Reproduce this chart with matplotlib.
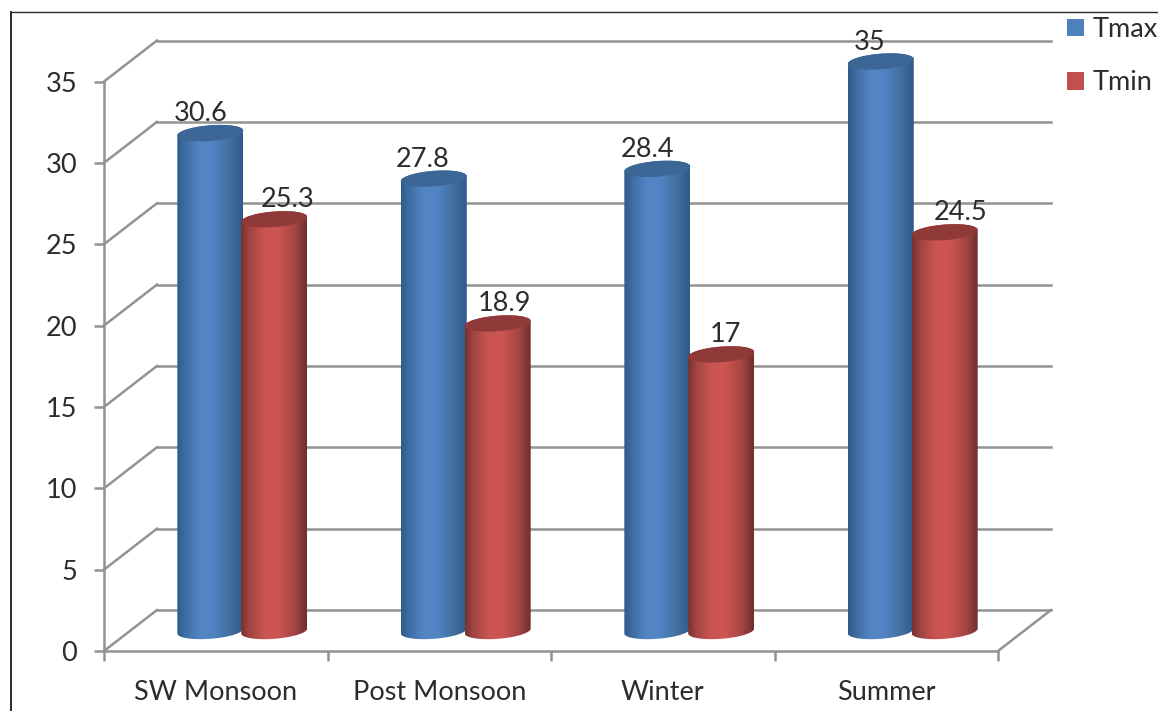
import numpy as np
import matplotlib
matplotlib.use("Agg")
import matplotlib.pyplot as plt
from matplotlib.lines import Line2D
from matplotlib.patches import Patch, Polygon
from matplotlib.path import Path
from matplotlib.transforms import Affine2D

plt.rcParams['font.family'] = ['Lato', 'DejaVu Sans']

# ===================================== data ==============================================================
categories = ["SW Monsoon", "Post Monsoon", "Winter", "Summer"]
tmax = [30.6, 27.8, 28.4, 35]
tmin = [25.3, 18.9, 17, 24.5]
y_ticks = [0, 5, 10, 15, 20, 25, 30, 35]

# label shift from the bar centre, pixels
tmax_label_dx = [-10, -11, -10, -11]
tmin_label_dx = [13, 7, 4, 16]

W, H = 1158, 711
GRID = "#939393"
TEXT = "#2c2c2c"
FS = 19.5
LW = 1.8

fig = plt.figure(figsize=(W / 100, H / 100), dpi=100, facecolor="white")
ax = fig.add_axes([104 / W, (H - 651) / H, (998 - 104) / W, (651 - 81.5) / H])
ax.set_xlim(0, 4)
ax.set_ylim(0, 35)
ax.patch.set_visible(False)

# depth of the fake 3d box, in pixels
back = ax.transData + Affine2D().translate(53, 41)
mid = ax.transData + Affine2D().translate(26.5, 20)


def depth_line(x, v):
    # slanted line from the front of the box to the back wall
    start = ax.transData.transform((x, v))
    line = Line2D([0, 53], [0, 41], color=GRID, lw=LW, zorder=1, transform=Affine2D().translate(*start))
    ax.add_artist(line)
    line.set_clip_on(False)


# walls and floor
for v in y_ticks:
    ax.plot([0, 4], [v, v], color=GRID, lw=LW, transform=back, clip_on=False, zorder=1)
    depth_line(0, v)
depth_line(4, 0)

# ===================================== cylinders =========================================================
stops = [0, 0.12, 0.35, 0.55, 0.8, 1]
blue_side = ["#2f5b8c", "#3f6da3", "#5486c6", "#5184c4", "#436f9f", "#30598a"]
red_side = ["#77322f", "#a04442", "#ca5452", "#cd5653", "#a94745", "#6f2f2d"]
blue_cap = "#3c6695"
red_cap = "#8f3a38"

HW = 0.1475     # half width
ELL = 0.48      # ellipse half height
SLOPE = 0.15    # ellipse tilt


def side_image(colors):
    pos = np.linspace(0, 1, 128)
    rgb = np.array([matplotlib.colors.to_rgb(c) for c in colors])
    return np.dstack([np.interp(pos, stops, rgb[:, i]) for i in range(3)])


def cylinder(cx, v, colors, cap, z):
    t = np.linspace(0, 2 * np.pi, 121)
    ex = cx + HW * np.cos(t)
    ey = SLOPE * np.cos(t) + ELL * np.sin(t)
    low = (t >= np.pi)
    up = (t <= np.pi)
    px = np.r_[ex[low], ex[up]]
    py = np.r_[ey[low], ey[up] + v]
    body = Path(np.column_stack([px, py]))
    im = ax.imshow(side_image(colors), extent=[cx - HW, cx + HW, -2, v + 2], aspect="auto",
                   interpolation="bilinear", transform=mid, zorder=z)
    im.set_clip_box(fig.bbox)
    im.set_clip_path(body, mid)
    ax.add_patch(Polygon(np.column_stack([ex, ey + v]), closed=True, facecolor=cap, edgecolor="none",
                         transform=mid, clip_on=False, zorder=z + 0.1))


for i, cat in enumerate(categories):
    c = i + 0.5
    cylinder(c - 0.143, tmax[i], blue_side, blue_cap, 3 + i)
    cylinder(c + 0.143, tmin[i], red_side, red_cap, 3.3 + i)
    ax.annotate(str(tmax[i]), xy=(c - 0.143, tmax[i]), xycoords=mid, xytext=(tmax_label_dx[i], 12),
                textcoords="offset pixels", ha="center", va="baseline", fontsize=FS, color=TEXT, zorder=10)
    ax.annotate(str(tmin[i]), xy=(c + 0.143, tmin[i]), xycoords=mid, xytext=(tmin_label_dx[i], 12),
                textcoords="offset pixels", ha="center", va="baseline", fontsize=FS, color=TEXT, zorder=10)

ax.set_xlim(0, 4)
ax.set_ylim(0, 35)

# ===================================== axes ==============================================================
for s in ["top", "right"]:
    ax.spines[s].set_visible(False)
for s in ["left", "bottom"]:
    ax.spines[s].set_color(GRID)
    ax.spines[s].set_linewidth(LW)
ax.set_yticks(y_ticks)
ax.set_xticks([0, 1, 2, 3, 4])
ax.set_xticklabels([])
ax.set_xticks([0.5, 1.5, 2.5, 3.5], minor=True)
ax.set_xticklabels(categories, minor=True)
ax.tick_params(axis="y", length=7.5, width=LW, color=GRID, labelcolor=TEXT, labelsize=FS, pad=12)
ax.tick_params(axis="x", which="major", length=7.5, width=LW, color=GRID)
ax.tick_params(axis="x", which="minor", length=0, labelcolor=TEXT, labelsize=FS, pad=21)

# legend
handles = [Patch(facecolor="#4f81bd", label="Tmax"), Patch(facecolor="#c0504d", label="Tmin")]
ax.legend(handles=handles, loc="upper left", bbox_to_anchor=(1067 / W, 1 - 17 / H), bbox_transform=fig.transFigure,
          frameon=False, fontsize=FS, labelcolor=TEXT, borderpad=0, borderaxespad=0, labelspacing=1.05,
          handlelength=0.64, handleheight=0.64, handletextpad=0.3)

# outer frame, only left and top are in the picture
fig.add_artist(Line2D([11 / W, 11 / W], [0, 1 - 12 / H], color="#2a2a2a", lw=1.4))
fig.add_artist(Line2D([11 / W, 1], [1 - 12 / H, 1 - 12 / H], color="#2a2a2a", lw=1.0))

fig.savefig("out.png", dpi=100, facecolor="white")
